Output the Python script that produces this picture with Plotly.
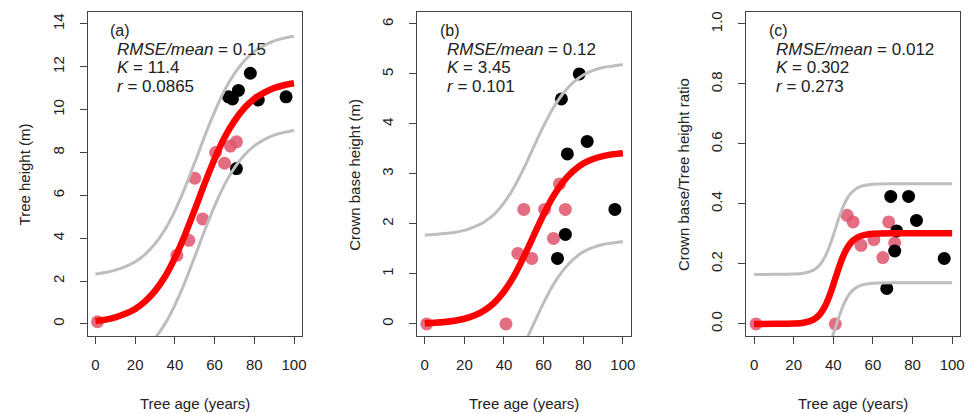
import plotly.graph_objects as go

# ---------------- data ----------------
age_pink = [1, 41, 47, 50, 54, 60.5, 65, 68, 71]
age_black = [67, 69, 71, 72, 78, 82, 96]

height_pink = [0.1, 3.2, 3.9, 6.8, 4.9, 8.0, 7.5, 8.3, 8.5]
height_black = [10.6, 10.5, 7.25, 10.9, 11.7, 10.45, 10.6]

cbh_pink = [0.0, 0.0, 1.41, 2.29, 1.31, 2.29, 1.71, 2.8, 2.29]
cbh_black = [1.31, 4.5, 1.79, 3.4, 5.0, 3.65, 2.29]

ratio_pink = [0.0, 0.0, 0.362, 0.34, 0.262, 0.281, 0.221, 0.34, 0.27]
ratio_black = [0.118, 0.425, 0.243, 0.31, 0.425, 0.345, 0.218]

# fitted curves
fit_age_ab = [0, 5, 10, 15, 20, 25, 30, 35, 40, 45, 50, 55, 60, 65, 70, 75, 80, 85, 90, 95, 100]
fit_a = [0.13, 0.2, 0.31, 0.47, 0.7, 1.05, 1.54, 2.2, 3.08, 4.14, 5.33, 6.56, 7.7, 8.7, 9.48,
         10.08, 10.51, 10.8, 11.01, 11.14, 11.23]
up_a = [2.33, 2.4, 2.51, 2.67, 2.9, 3.25, 3.74, 4.4, 5.28, 6.34, 7.53, 8.76, 9.9, 10.9, 11.68,
        12.28, 12.71, 13.0, 13.21, 13.34, 13.43]
lo_a = [-2.07, -2.0, -1.89, -1.73, -1.5, -1.15, -0.66, 0.0, 0.88, 1.94, 3.13, 4.36, 5.5, 6.5,
        7.28, 7.88, 8.31, 8.6, 8.81, 8.94, 9.03]

fit_b = [0.014, 0.023, 0.038, 0.063, 0.103, 0.167, 0.268, 0.422, 0.648, 0.955, 1.34, 1.768,
         2.19, 2.56, 2.85, 3.06, 3.21, 3.3, 3.357, 3.393, 3.415]
up_b = [1.78, 1.79, 1.81, 1.83, 1.87, 1.94, 2.04, 2.19, 2.42, 2.73, 3.11, 3.54, 3.96, 4.33,
        4.62, 4.83, 4.98, 5.07, 5.13, 5.16, 5.19]
lo_b = [-1.76, -1.75, -1.73, -1.71, -1.67, -1.6, -1.5, -1.35, -1.12, -0.82, -0.43, 0.0, 0.42,
        0.79, 1.08, 1.29, 1.44, 1.53, 1.59, 1.62, 1.65]

fit_age_c = [0, 10, 20, 25, 30, 33, 36, 38, 40, 42, 44, 46, 48, 50, 53, 56, 60, 70, 80, 90, 100]
fit_c = [0.0, 0.0001, 0.001, 0.0038, 0.0143, 0.0306, 0.0614, 0.0924, 0.1305, 0.1715, 0.2096,
         0.2406, 0.2631, 0.278, 0.291, 0.297, 0.3003, 0.302, 0.302, 0.302, 0.302]
up_c = [0.165, 0.1651, 0.166, 0.1688, 0.1793, 0.1956, 0.2264, 0.2574, 0.2955, 0.3365, 0.3746,
        0.4056, 0.4281, 0.443, 0.456, 0.462, 0.4653, 0.467, 0.467, 0.467, 0.467]
lo_c = [-0.165, -0.1649, -0.164, -0.1612, -0.1507, -0.1344, -0.1036, -0.0726, -0.0345, 0.0065,
        0.0446, 0.0756, 0.0981, 0.113, 0.126, 0.132, 0.1353, 0.137, 0.137, 0.137, 0.137]

panel_labels = ["(a)", "(b)", "(c)"]
stats_text = [
    ["0.15", "11.4", "0.0865"],
    ["0.12", "3.45", "0.101"],
    ["0.012", "0.302", "0.273"],
]
y_titles = ["Tree height (m)", "Crown base height (m)", "Crown base/Tree height ratio"]
x_title = "Tree age (years)"
x_ticks = [0, 20, 40, 60, 80, 100]
y_ticks = [
    [0, 2, 4, 6, 8, 10, 12, 14],
    [0, 1, 2, 3, 4, 5, 6],
    [0.0, 0.2, 0.4, 0.6, 0.8, 1.0],
]
y_ticktext_c = ["0.0", "0.2", "0.4", "0.6", "0.8", "1.0"]
y_ranges = [[-0.56, 14.56], [-0.24, 6.24], [-0.04, 1.04]]

# ---------------- style ----------------
W, H = 977, 414
PINK = "rgba(223,83,107,0.85)"
BLACK = "black"
RED = "#ff0000"
GRAY = "#bebebe"
FONT = "Liberation Sans, Arial, sans-serif"
TXT = "#222222"
FS = 15
FS_STATS = 17

box_left = [88, 419, 750]
box_right = [303.5, 634, 965]
box_top, box_bottom = 11, 335.7

panels = [
    (age_pink, height_pink, age_black, height_black, fit_age_ab, fit_a, up_a, lo_a),
    (age_pink, cbh_pink, age_black, cbh_black, fit_age_ab, fit_b, up_b, lo_b),
    (age_pink, ratio_pink, age_black, ratio_black, fit_age_c, fit_c, up_c, lo_c),
]

fig = go.Figure()
annotations = []
layout_axes = {}

for i, (xp, yp, xb, yb, fx, fy, fu, fl) in enumerate(panels):
    n = "" if i == 0 else str(i + 1)
    xa, ya = "x" + n, "y" + n
    fig.add_trace(go.Scatter(x=xp, y=yp, mode="markers", xaxis=xa, yaxis=ya,
                             marker=dict(color=PINK, size=13, line=dict(width=0)),
                             showlegend=False, hoverinfo="skip"))
    fig.add_trace(go.Scatter(x=xb, y=yb, mode="markers", xaxis=xa, yaxis=ya,
                             marker=dict(color=BLACK, size=13, line=dict(width=0)),
                             showlegend=False, hoverinfo="skip"))
    for band in (fu, fl):
        fig.add_trace(go.Scatter(x=fx, y=band, mode="lines", xaxis=xa, yaxis=ya,
                                 line=dict(color=GRAY, width=3, shape="spline", smoothing=0.8),
                                 showlegend=False, hoverinfo="skip"))
    fig.add_trace(go.Scatter(x=fx, y=fy, mode="lines", xaxis=xa, yaxis=ya,
                             line=dict(color=RED, width=6.5, shape="spline", smoothing=0.8),
                             showlegend=False, hoverinfo="skip"))

    L, R = box_left[i], box_right[i]
    common = dict(showline=True, mirror=True, linecolor="#444444", linewidth=1,
                  ticks="outside", ticklen=7, tickcolor="#444444", tickwidth=1,
                  showgrid=False, zeroline=False,
                  tickfont=dict(family=FONT, size=FS, color=TXT))
    layout_axes["xaxis" + n] = dict(
        domain=[L / W, R / W], range=[-4, 104], anchor=ya,
        tickmode="array", tickvals=x_ticks, ticklabelstandoff=8, **common)
    yax = dict(domain=[1 - box_bottom / H, 1 - box_top / H], range=y_ranges[i], anchor=xa,
               tickmode="array", tickvals=y_ticks[i], tickangle=-90, ticklabelstandoff=10,
               **common)
    if i == 2:
        yax["ticktext"] = y_ticktext_c
    layout_axes["yaxis" + n] = yax

    # panel label and statistics
    annotations.append(dict(x=(L + 21) / W, y=1 - 30 / H, xref="paper", yref="paper",
                            text=panel_labels[i], showarrow=False, xanchor="left",
                            yanchor="middle", font=dict(family=FONT, size=16, color=TXT)))
    s = stats_text[i]
    lines = [f"<i>RMSE</i><i>/</i><i>mean</i> = {s[0]}", f"<i>K</i> = {s[1]}",
             f"<i>r</i> = {s[2]}"]
    for j, t in enumerate(lines):
        annotations.append(dict(x=(L + 28) / W, y=1 - (48.5 + 18.5 * j) / H,
                                xref="paper", yref="paper", text=t, showarrow=False,
                                xanchor="left", yanchor="middle",
                                font=dict(family=FONT, size=FS_STATS, color=TXT)))
    # axis titles
    annotations.append(dict(x=(L + R) / 2 / W, y=1 - 403 / H, xref="paper", yref="paper",
                            text=x_title, showarrow=False, xanchor="center", yanchor="middle",
                            font=dict(family=FONT, size=FS, color=TXT)))
    annotations.append(dict(x=(L - 63) / W, y=1 - 174 / H, xref="paper", yref="paper",
                            text=y_titles[i], showarrow=False, xanchor="center",
                            yanchor="middle", textangle=-90,
                            font=dict(family=FONT, size=FS, color=TXT)))

fig.update_layout(width=W, height=H, margin=dict(l=0, r=0, t=0, b=0),
                  paper_bgcolor="white", plot_bgcolor="white",
                  annotations=annotations, **layout_axes)

fig.write_html("out.html")
